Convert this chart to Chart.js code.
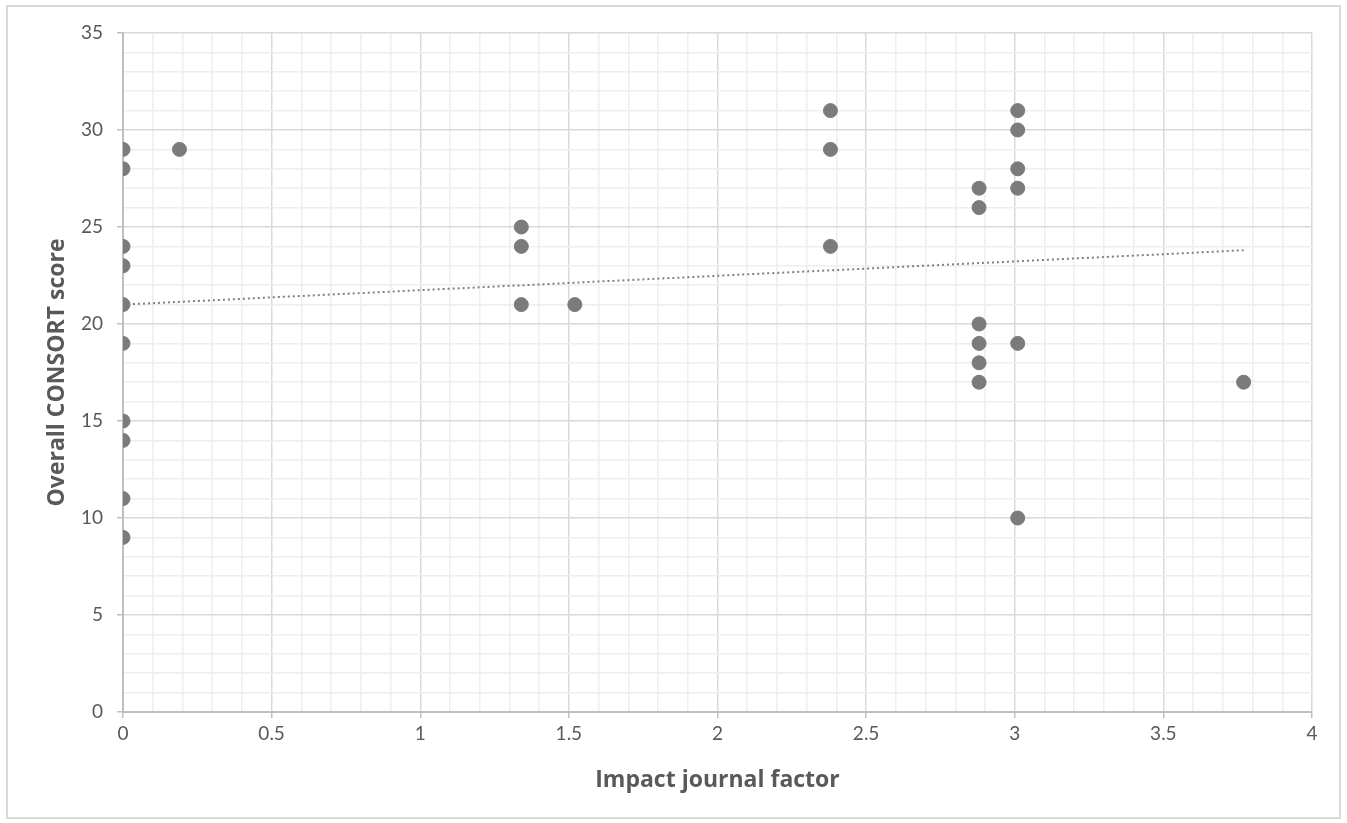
<!DOCTYPE html>
<html>
<head>
<meta charset="utf-8">
<script src="https://cdn.jsdelivr.net/npm/chart.js@4/dist/chart.umd.min.js"></script>
<style>
  html, body { margin: 0; padding: 0; background: #ffffff; }
  #wrap { width: 1347px; height: 823px; position: relative; }
</style>
</head>
<body>
<div id="wrap"><canvas id="c"></canvas></div>
<script>
// ---- Data ----
const impactFactor = [0, 0, 0, 0, 0, 0, 0, 0, 0, 0,
                      0.19,
                      1.34, 1.34, 1.34,
                      1.52,
                      2.38, 2.38, 2.38,
                      2.88, 2.88, 2.88, 2.88, 2.88, 2.88,
                      3.01, 3.01, 3.01, 3.01, 3.01, 3.01,
                      3.77];
const consortScore = [29, 28, 24, 23, 21, 19, 15, 14, 11, 9,
                      29,
                      25, 24, 21,
                      21,
                      31, 29, 24,
                      27, 26, 20, 19, 18, 17,
                      31, 30, 28, 27, 19, 10,
                      17];
const trendX = [0, 3.77];
const trendY = [21.0, 23.8];
const xTitle = 'Impact journal factor';
const yTitle = 'Overall CONSORT score';

const points = impactFactor.map((x, i) => ({ x: x, y: consortScore[i] }));
const trend = trendX.map((x, i) => ({ x: x, y: trendY[i] }));

const isMult = (v, m) => Math.abs(v / m - Math.round(v / m)) < 1e-6;
const FONT = 'Lato, "Open Sans", "Liberation Sans", sans-serif';
const TFONT = '"Open Sans", Lato, "Liberation Sans", sans-serif';

const frame = {
  id: 'frame',
  beforeDraw(chart) {
    const ctx = chart.ctx;
    ctx.save();
    ctx.fillStyle = '#ffffff';
    ctx.fillRect(0, 0, chart.width, chart.height);
    ctx.strokeStyle = '#d9d9d9';
    ctx.lineWidth = 2;
    ctx.strokeRect(7, 6, 1333, 812);
    ctx.restore();
  }
};

new Chart(document.getElementById('c'), {
  type: 'scatter',
  data: {
    datasets: [
      {
        label: 'Linear trend',
        type: 'line',
        data: trend,
        showLine: true,
        borderColor: '#7f7f7f',
        borderWidth: 2,
        borderDash: [2, 3],
        pointRadius: 0,
        fill: false,
        order: 2
      },
      {
        label: 'Score',
        data: points,
        backgroundColor: '#7b7b7b',
        borderColor: '#7b7b7b',
        pointRadius: 7,
        pointHoverRadius: 7,
        order: 1
      }
    ]
  },
  options: {
    responsive: true,
    maintainAspectRatio: false,
    animation: false,
    layout: { padding: { left: 0, top: 33, right: 35, bottom: 0 } },
    plugins: { legend: { display: false }, tooltip: { enabled: false } },
    scales: {
      x: {
        type: 'linear',
        min: 0, max: 4,
        afterFit(s) { s.height = 111; },
        ticks: {
          stepSize: 0.1,
          autoSkip: false,
          maxRotation: 0,
          padding: 4,
          color: '#595959',
          font: { family: FONT, size: 19 },
          callback: (v) => isMult(v, 0.5) ? String(Math.round(v * 10) / 10) : ''
        },
        grid: {
          color: (c) => isMult(c.tick.value, 0.5) ? '#d9d9d9' : '#eeeeee',
          lineWidth: 1.5,
          tickLength: 6,
          tickColor: (c) => isMult(c.tick.value, 0.5) ? '#bfbfbf' : 'rgba(0,0,0,0)'
        },
        border: { color: '#bfbfbf', width: 2 },
        title: {
          display: true,
          text: xTitle,
          color: '#595959',
          font: { family: TFONT, size: 23, weight: 'bold' },
          padding: { top: 0, bottom: 29 }
        }
      },
      y: {
        type: 'linear',
        min: 0, max: 35,
        afterFit(s) { s.width = 123; },
        ticks: {
          stepSize: 1,
          autoSkip: false,
          padding: 14,
          color: '#595959',
          font: { family: FONT, size: 19 },
          callback: (v) => isMult(v, 5) ? String(v) : ''
        },
        grid: {
          color: (c) => isMult(c.tick.value, 5) ? '#d9d9d9' : '#eeeeee',
          lineWidth: 1.5,
          tickLength: 6,
          tickColor: (c) => isMult(c.tick.value, 5) ? '#bfbfbf' : 'rgba(0,0,0,0)'
        },
        border: { color: '#bfbfbf', width: 2 },
        title: {
          display: true,
          text: yTitle,
          color: '#595959',
          font: { family: TFONT, size: 23, weight: 'bold' },
          padding: { top: 44, bottom: 0 }
        }
      }
    }
  },
  plugins: [frame]
});
</script>
</body>
</html>
